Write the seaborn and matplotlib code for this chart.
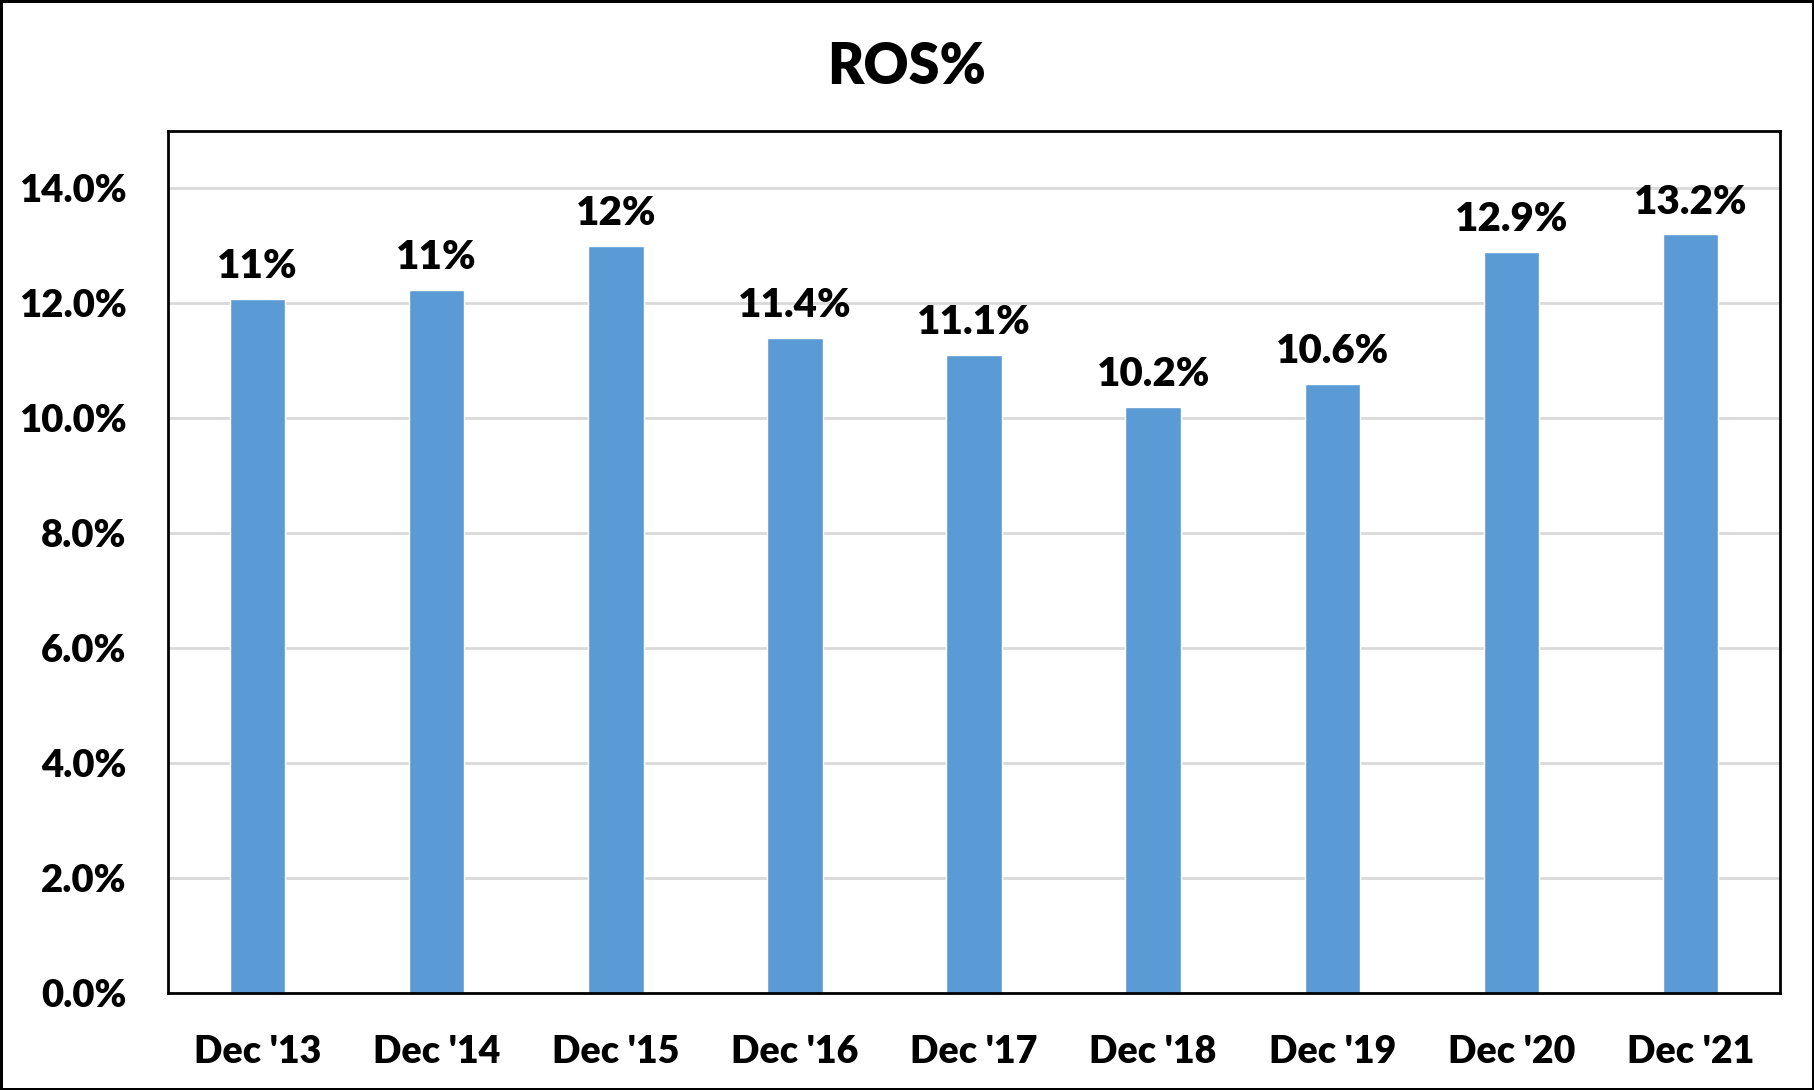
import matplotlib
matplotlib.use("Agg")
import matplotlib.pyplot as plt
import seaborn as sns
import pandas as pd

# data
periods = ["Dec '13", "Dec '14", "Dec '15", "Dec '16", "Dec '17",
           "Dec '18", "Dec '19", "Dec '20", "Dec '21"]
ros_pct = [12.08, 12.24, 13.0, 11.4, 11.1, 10.2, 10.6, 12.9, 13.2]
bar_labels = ["11%", "11%", "12%", "11.4%", "11.1%", "10.2%", "10.6%", "12.9%", "13.2%"]
y_ticks = [0, 2, 4, 6, 8, 10, 12, 14]

df = pd.DataFrame({"Period": periods, "ROS": ros_pct})

sns.set_style("white")
plt.rcParams["font.family"] = ["Lato", "DejaVu Sans"]
plt.rcParams["text.color"] = "black"
plt.rcParams["xtick.color"] = "black"
plt.rcParams["ytick.color"] = "black"

fig = plt.figure(figsize=(18.14, 10.9), dpi=100, linewidth=2.5, edgecolor="black")
ax = fig.add_axes([0.0926, 0.089, 0.8887, 0.7908])

sns.barplot(data=df, x="Period", y="ROS", color="#5B9BD5", saturation=1,
            width=0.31, ax=ax)

ax.set_ylim(0, 15)
ax.set_yticks(y_ticks)
ax.set_yticklabels([f"{t:.1f}%" for t in y_ticks], fontsize=27.5, fontweight="heavy")
ax.set_xticks(range(len(periods)))
ax.set_xticklabels(periods, fontsize=27, fontweight="heavy")
ax.tick_params(axis="both", length=0)
ax.tick_params(axis="y", pad=30)
ax.tick_params(axis="x", pad=30)
ax.set_xlabel("")
ax.set_ylabel("")

ax.yaxis.grid(True, color="#D9D9D9", linewidth=2)
ax.set_axisbelow(True)
for s in ax.spines.values():
    s.set_visible(True)
    s.set_color("black")
    s.set_linewidth(2)

ax.bar_label(ax.containers[0], labels=bar_labels, padding=10,
             fontsize=29, fontweight="heavy", color="black")

fig.suptitle("ROS%", y=0.962, fontsize=40, fontweight="heavy", color="black")

fig.savefig("out.png", dpi=100, edgecolor="black")
